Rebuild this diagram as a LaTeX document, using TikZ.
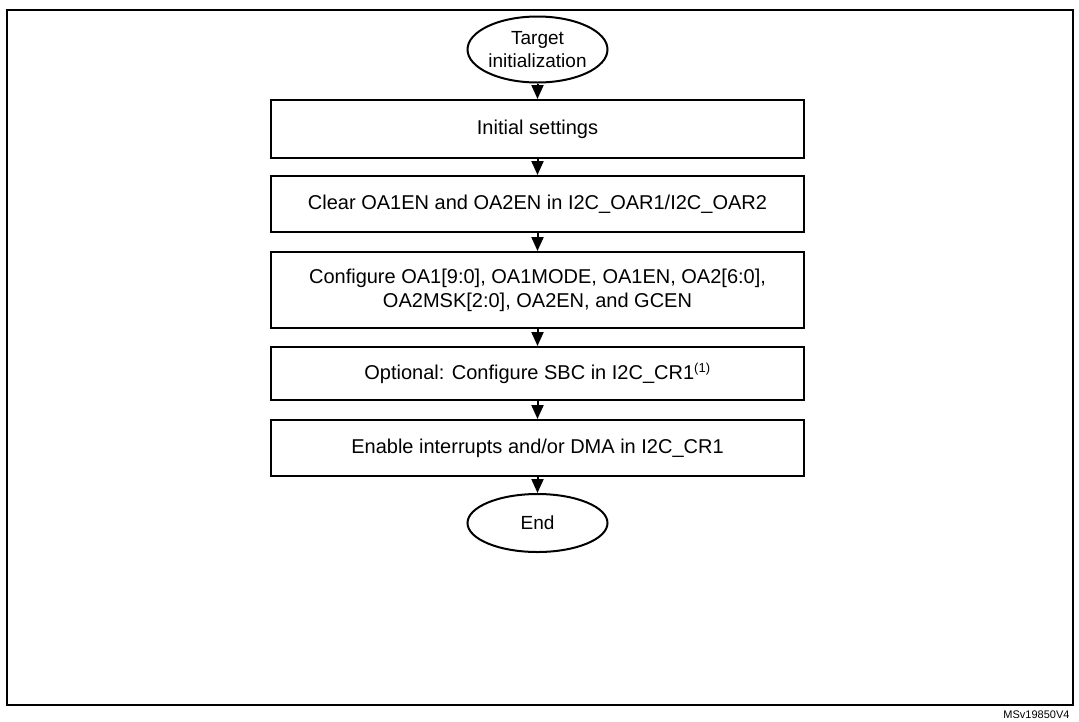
\documentclass[tikz,border=0pt]{standalone}
\usepackage{fontspec}
\setmainfont{Liberation Sans}
\usetikzlibrary{shapes.geometric,arrows.meta}
\begin{document}
\begin{tikzpicture}[x=1pt,y=-1pt,
  box/.style={draw,line width=2pt,minimum width=533pt,align=center,inner sep=0pt,font=\fontsize{20}{24}\selectfont},
  term/.style={draw,ellipse,line width=2pt,minimum width=140pt,align=center,inner sep=-12pt,font=\fontsize{19}{23}\selectfont},
  arr/.style={-{Triangle[length=14pt,width=12pt]},line width=2pt}]
\useasboundingbox (0,0) rectangle (1079,721);
\draw[line width=2pt] (7,10) rectangle (1073,705);
\node[term,minimum height=66pt] (t) at (537.5,49.5) {Target\\initialization};
\node[box,minimum height=58pt] (a) at (537.5,129) {Initial settings};
\node[box,minimum height=56pt] (b) at (537.5,204) {Clear OA1EN and OA2EN in I2C\_OAR1/I2C\_OAR2};
\node[box,minimum height=76pt] (c) at (537.5,290) {Configure OA1[9:0], OA1MODE, OA1EN, OA2[6:0],\\OA2MSK[2:0], OA2EN, and GCEN};
\node[box,minimum height=53pt] (d) at (537.5,373.5) {Optional: Configure SBC in I2C\_CR1\textsuperscript{\fontsize{13}{15}\selectfont(1)}};
\node[box,minimum height=56pt] (e) at (537.5,448) {Enable interrupts and/or DMA in I2C\_CR1};
\node[term,minimum height=58pt] (f) at (537.5,523) {End};
\draw[arr] (t) -- (a);
\draw[arr] (a) -- (b);
\draw[arr] (b) -- (c);
\draw[arr] (c) -- (d);
\draw[arr] (d) -- (e);
\draw[arr] (e) -- (f);
\node[anchor=base east,font=\fontsize{11}{13}\selectfont] (lbl) at (1073,718) {MSv19850V4};
\end{tikzpicture}
\end{document}
